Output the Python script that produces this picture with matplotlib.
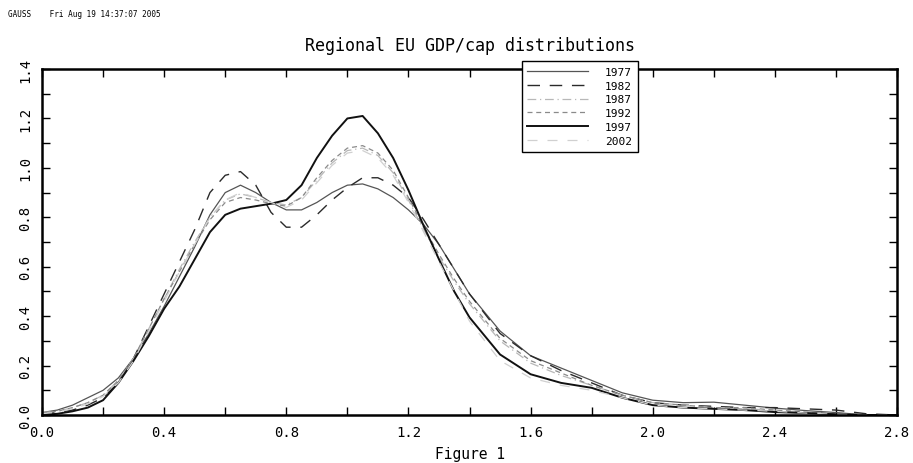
import matplotlib
matplotlib.use("Agg")
import matplotlib.pyplot as plt
from matplotlib.ticker import MultipleLocator

x = [0.0, 0.05, 0.1, 0.15, 0.2, 0.25, 0.3, 0.35, 0.4, 0.45, 0.5, 0.55, 0.6, 0.65,
     0.7, 0.75, 0.8, 0.85, 0.9, 0.95, 1.0, 1.05, 1.1, 1.15, 1.2, 1.25, 1.3, 1.35,
     1.4, 1.5, 1.6, 1.7, 1.8, 1.9, 2.0, 2.1, 2.2, 2.3, 2.4, 2.5, 2.6, 2.7, 2.8]

y1977 = [0.01, 0.02, 0.04, 0.07, 0.10, 0.15, 0.23, 0.33, 0.44, 0.56, 0.68, 0.81, 0.90, 0.93,
         0.90, 0.86, 0.83, 0.83, 0.86, 0.90, 0.93, 0.935, 0.915, 0.88, 0.83, 0.77, 0.69, 0.59,
         0.49, 0.34, 0.24, 0.19, 0.14, 0.09, 0.06, 0.05, 0.052, 0.04, 0.028, 0.018, 0.01, 0.0, 0.0]
y1982 = [0.005, 0.01, 0.02, 0.04, 0.07, 0.13, 0.23, 0.36, 0.49, 0.62, 0.75, 0.90, 0.97, 0.985,
         0.93, 0.82, 0.76, 0.76, 0.81, 0.87, 0.92, 0.96, 0.96, 0.93, 0.88, 0.79, 0.69, 0.59,
         0.49, 0.33, 0.24, 0.18, 0.13, 0.08, 0.05, 0.04, 0.035, 0.03, 0.03, 0.025, 0.02, 0.005, 0.0]
y1987 = [0.01, 0.015, 0.03, 0.05, 0.08, 0.14, 0.23, 0.35, 0.47, 0.59, 0.70, 0.80, 0.87, 0.895,
         0.88, 0.86, 0.85, 0.88, 0.95, 1.02, 1.07, 1.08, 1.05, 0.98, 0.87, 0.75, 0.64, 0.54,
         0.45, 0.30, 0.21, 0.16, 0.12, 0.08, 0.05, 0.04, 0.03, 0.025, 0.02, 0.01, 0.005, 0.0, 0.0]
y1992 = [0.008, 0.015, 0.03, 0.05, 0.08, 0.14, 0.23, 0.35, 0.47, 0.58, 0.69, 0.79, 0.86, 0.88,
         0.87, 0.855, 0.845, 0.88, 0.96, 1.03, 1.08, 1.09, 1.06, 0.99, 0.88, 0.76, 0.65, 0.55,
         0.46, 0.31, 0.22, 0.17, 0.12, 0.08, 0.05, 0.04, 0.03, 0.03, 0.02, 0.012, 0.005, 0.0, 0.0]
y1997 = [0.0, 0.005, 0.015, 0.03, 0.06, 0.13, 0.22, 0.32, 0.43, 0.52, 0.63, 0.74, 0.81, 0.835,
         0.845, 0.855, 0.87, 0.93, 1.04, 1.13, 1.20, 1.21, 1.14, 1.04, 0.91, 0.765, 0.63, 0.50,
         0.395, 0.245, 0.165, 0.13, 0.11, 0.07, 0.04, 0.03, 0.025, 0.02, 0.012, 0.008, 0.003, 0.0, 0.0]
y2002 = [0.005, 0.012, 0.025, 0.045, 0.075, 0.13, 0.22, 0.34, 0.46, 0.58, 0.69, 0.80, 0.87, 0.90,
         0.88, 0.86, 0.84, 0.87, 0.94, 1.01, 1.06, 1.07, 1.04, 0.97, 0.86, 0.74, 0.62, 0.50,
         0.38, 0.22, 0.15, 0.12, 0.10, 0.07, 0.04, 0.03, 0.025, 0.02, 0.015, 0.008, 0.003, 0.0, 0.0]

labels = ["1977", "1982", "1987", "1992", "1997", "2002"]
series = [y1977, y1982, y1987, y1992, y1997, y2002]
colors = ["#555555", "#2a2a2a", "#b8b8b8", "#8a8a8a", "#111111", "#d0d0d0"]
widths = [0.9, 1.0, 0.9, 0.9, 1.4, 0.9]
dashes = [None, (9, 7), (7, 3, 1, 3), (4, 3), None, (8, 8)]

mono = "DejaVu Sans Mono"

fig = plt.figure(figsize=(9.13, 4.64), dpi=100)
ax = fig.add_axes([0.046, 0.1034, 0.9365, 0.7457])

for ys, lab, c, w, d in zip(series, labels, colors, widths, dashes):
    line, = ax.plot(x, ys, color=c, lw=w, label=lab)
    if d is not None:
        line.set_dashes(d)

ax.xaxis.set_major_locator(MultipleLocator(0.4))
ax.xaxis.set_minor_locator(MultipleLocator(0.2))
ax.yaxis.set_major_locator(MultipleLocator(0.2))
ax.yaxis.set_minor_locator(MultipleLocator(0.1))
ax.tick_params(which="both", direction="in", top=True, right=True, width=1.0,
               color="black", length=6)
ax.tick_params(axis="x", which="major", pad=7)
ax.tick_params(axis="y", which="major", pad=12)
for sp in ax.spines.values():
    sp.set_linewidth(1.8)
    sp.set_color("black")

xt = [0.0, 0.4, 0.8, 1.2, 1.6, 2.0, 2.4, 2.8]
yt = [0.0, 0.2, 0.4, 0.6, 0.8, 1.0, 1.2, 1.4]
ax.set_xticks(xt)
ax.set_xticklabels([f"{v:.1f}" for v in xt], family=mono, fontsize=10)
ax.set_yticks(yt)
ax.set_yticklabels([f"{v:.1f}" for v in yt], family=mono, fontsize=10,
                   rotation=90, va="center", ha="center")
ax.set_xlim(0, 2.8)
ax.set_ylim(0, 1.4)

ax.set_xlabel("Figure 1", family=mono, fontsize=10.5, labelpad=5)
fig.text(0.515, 0.90, "Regional EU GDP/cap distributions", family=mono, fontsize=12,
         ha="center", va="center")
fig.text(0.009, 0.968, "GAUSS    Fri Aug 19 14:37:07 2005", family=mono, fontsize=5.5,
         ha="left", va="center")

leg = ax.legend(loc="upper left", bbox_to_anchor=(0.561, 1.023), prop={"family": mono, "size": 8},
                handlelength=5.5, labelspacing=0.35, borderpad=0.5, handletextpad=1.5,
                fancybox=False, framealpha=1.0, edgecolor="black", borderaxespad=0)
leg.get_frame().set_linewidth(1.0)
leg.set_zorder(10)

fig.savefig("out.png", dpi=100)
